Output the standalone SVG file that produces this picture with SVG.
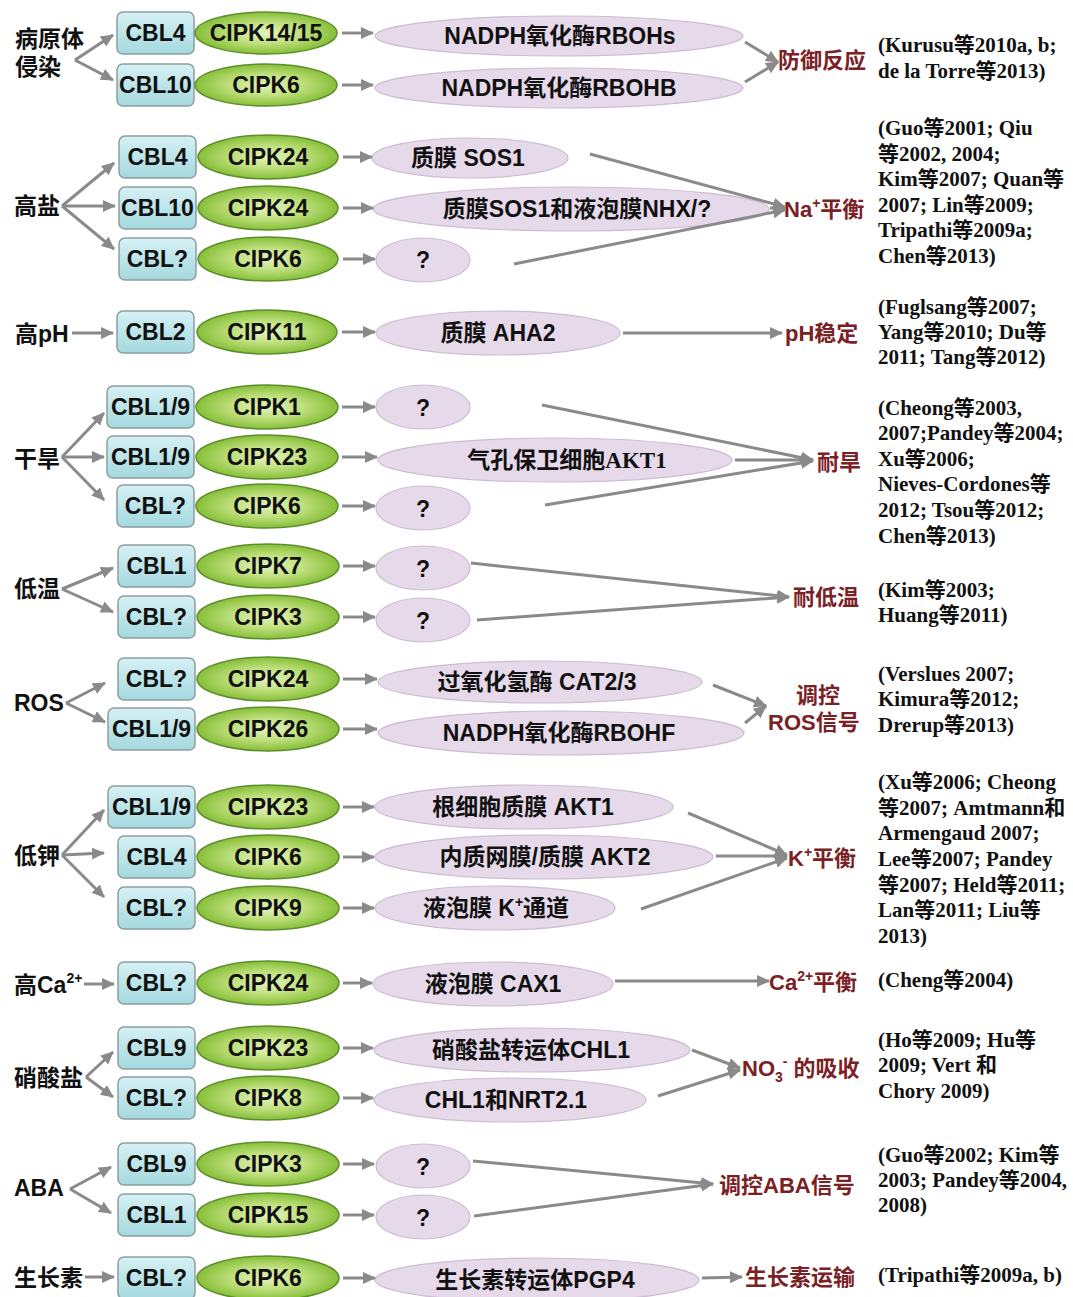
<svg xmlns="http://www.w3.org/2000/svg" width="1073" height="1297" viewBox="0 0 1073 1297">
<defs>
<linearGradient id="gCbl" x1="0" y1="0" x2="0" y2="1">
<stop offset="0" stop-color="#d6f1f4"/><stop offset="1" stop-color="#a4d9df"/>
</linearGradient>
<radialGradient id="gCipk" cx="0.5" cy="0.5" r="0.5">
<stop offset="0" stop-color="#e4f3bc"/><stop offset="0.5" stop-color="#c0e07e"/><stop offset="1" stop-color="#86bf38"/>
</radialGradient>
<marker id="ah" markerUnits="userSpaceOnUse" markerWidth="14" markerHeight="14" refX="12" refY="7" orient="auto">
<path d="M0,1 L13,7 L0,13 z" fill="#8a8a8a"/>
</marker>
</defs>
<style>
.cbl{fill:url(#gCbl);stroke:#8c9ea1;stroke-width:1.5}
.cipk{fill:url(#gCipk);stroke:#5e8e2c;stroke-width:1.5}
.tgt{fill:#e6d9ea;stroke:#cdbdd2;stroke-width:1.2}
.lb{font-family:"Liberation Sans",Arial,"Noto Sans CJK SC",sans-serif;font-weight:bold;font-size:23px;fill:#111;text-anchor:middle}
.sf{font-family:"Liberation Serif","Noto Sans CJK SC",serif}
.st{font-family:"Liberation Sans","Noto Sans CJK SC",sans-serif;font-weight:bold;font-size:23px;fill:#111}
.out{font-family:"Liberation Sans","Noto Sans CJK SC",sans-serif;font-weight:bold;font-size:22px;fill:#7b2024}
.ref{font-family:"Liberation Serif","Noto Sans CJK SC",serif;font-weight:bold;font-size:21px;fill:#111}
.c line{stroke:#8a8a8a;stroke-width:3;fill:none;marker-end:url(#ah)}
</style>

<!-- Group 1: pathogen -->
<g id="g1">
<g id="g1-stim"><text class="st" x="15" y="47">病原体</text><text class="st" x="15" y="75">侵染</text></g>
<g id="g1-r1">
<rect class="cbl" x="117" y="12" width="77" height="42" rx="6"/><text class="lb" x="155.5" y="41">CBL4</text>
<ellipse class="cipk" cx="266" cy="33" rx="71" ry="21"/><text class="lb" x="266" y="41">CIPK14/15</text>
<ellipse class="tgt" cx="559" cy="36" rx="184" ry="20"/><text class="lb" x="560" y="44">NADPH氧化酶RBOHs</text>
</g>
<g id="g1-r2">
<rect class="cbl" x="117" y="64" width="77" height="42" rx="6"/><text class="lb" x="155.5" y="93">CBL10</text>
<ellipse class="cipk" cx="266" cy="85" rx="71" ry="21"/><text class="lb" x="266" y="93">CIPK6</text>
<ellipse class="tgt" cx="559" cy="88" rx="184" ry="20"/><text class="lb" x="559" y="96">NADPH氧化酶RBOHB</text>
</g>
<g id="g1-out"><text class="out" x="778" y="68">防御反应</text></g>
<g id="g1-ref"><text class="ref" x="878" y="52">(Kurusu等2010a, b;</text><text class="ref" x="878" y="78">de la Torre等2013)</text></g>
</g>

<!-- Group 2: high salt -->
<g id="g2">
<g id="g2-stim"><text class="st" x="14" y="214">高盐</text></g>
<g id="g2-r1">
<rect class="cbl" x="119" y="136" width="77" height="42" rx="6"/><text class="lb" x="157.5" y="165">CBL4</text>
<ellipse class="cipk" cx="268" cy="157" rx="70" ry="22"/><text class="lb" x="268" y="165">CIPK24</text>
<ellipse class="tgt" cx="470" cy="158" rx="98" ry="20"/><text class="lb" x="468" y="166">质膜 SOS1</text>
</g>
<g id="g2-r2">
<rect class="cbl" x="119" y="187" width="77" height="42" rx="6"/><text class="lb" x="157.5" y="216">CBL10</text>
<ellipse class="cipk" cx="268" cy="208" rx="70" ry="22"/><text class="lb" x="268" y="216">CIPK24</text>
<ellipse class="tgt" cx="571" cy="209" rx="198" ry="22"/><text class="lb" x="577" y="217">质膜SOS1和液泡膜NHX/?</text>
</g>
<g id="g2-r3">
<rect class="cbl" x="119" y="238" width="77" height="42" rx="6"/><text class="lb" x="157.5" y="267">CBL?</text>
<ellipse class="cipk" cx="268" cy="259" rx="70" ry="22"/><text class="lb" x="268" y="267">CIPK6</text>
<ellipse class="tgt" cx="423" cy="260" rx="47" ry="22"/><text class="lb" x="423" y="268">?</text>
</g>
<g id="g2-out"><text class="out" x="784" y="217">Na<tspan font-size="14" dy="-9">+</tspan><tspan dy="9">平衡</tspan></text></g>
<g id="g2-ref">
<text class="ref" x="878" y="135">(Guo等2001; Qiu</text>
<text class="ref" x="878" y="161">等2002, 2004;</text>
<text class="ref" x="878" y="186">Kim等2007; Quan等</text>
<text class="ref" x="878" y="212">2007; Lin等2009;</text>
<text class="ref" x="878" y="237">Tripathi等2009a;</text>
<text class="ref" x="878" y="263">Chen等2013)</text>
</g>
</g>

<!-- Group 3: high pH -->
<g id="g3">
<g id="g3-stim"><text class="st" x="15" y="342">高pH</text></g>
<g id="g3-r1">
<rect class="cbl" x="117" y="311" width="77" height="42" rx="6"/><text class="lb" x="155.5" y="340">CBL2</text>
<ellipse class="cipk" cx="267" cy="332" rx="70" ry="22"/><text class="lb" x="267" y="340">CIPK11</text>
<ellipse class="tgt" cx="498" cy="333" rx="122" ry="22"/><text class="lb" x="498" y="341">质膜 AHA2</text>
</g>
<g id="g3-out"><text class="out" x="785" y="341">pH稳定</text></g>
<g id="g3-ref">
<text class="ref" x="878" y="314">(Fuglsang等2007;</text>
<text class="ref" x="878" y="339">Yang等2010; Du等</text>
<text class="ref" x="878" y="364">2011; Tang等2012)</text>
</g>
</g>

<!-- Group 4: drought -->
<g id="g4">
<g id="g4-stim"><text class="st" x="14" y="467">干旱</text></g>
<g id="g4-r1">
<rect class="cbl" x="107" y="386" width="87" height="42" rx="6"/><text class="lb" x="150.5" y="415">CBL1/9</text>
<ellipse class="cipk" cx="267" cy="407" rx="71" ry="22"/><text class="lb" x="267" y="415">CIPK1</text>
<ellipse class="tgt" cx="423" cy="407" rx="47" ry="22"/><text class="lb" x="423" y="416">?</text>
</g>
<g id="g4-r2">
<rect class="cbl" x="107" y="436" width="87" height="42" rx="6"/><text class="lb" x="150.5" y="465">CBL1/9</text>
<ellipse class="cipk" cx="267" cy="457" rx="71" ry="22"/><text class="lb" x="267" y="465">CIPK23</text>
<ellipse class="tgt" cx="555" cy="460" rx="177" ry="22"/><text class="lb" x="567" y="468">气孔保卫细胞<tspan class="sf">AKT1</tspan></text>
</g>
<g id="g4-r3">
<rect class="cbl" x="117" y="485" width="77" height="42" rx="6"/><text class="lb" x="155.5" y="514">CBL?</text>
<ellipse class="cipk" cx="267" cy="506" rx="71" ry="22"/><text class="lb" x="267" y="514">CIPK6</text>
<ellipse class="tgt" cx="423" cy="508" rx="47" ry="22"/><text class="lb" x="423" y="517">?</text>
</g>
<g id="g4-out"><text class="out" x="817" y="470">耐旱</text></g>
<g id="g4-ref">
<text class="ref" x="878" y="415">(Cheong等2003,</text>
<text class="ref" x="878" y="440">2007;Pandey等2004;</text>
<text class="ref" x="878" y="466">Xu等2006;</text>
<text class="ref" x="878" y="491">Nieves-Cordones等</text>
<text class="ref" x="878" y="517">2012; Tsou等2012;</text>
<text class="ref" x="878" y="543">Chen等2013)</text>
</g>
</g>

<!-- Group 5: low temperature -->
<g id="g5">
<g id="g5-stim"><text class="st" x="14" y="597">低温</text></g>
<g id="g5-r1">
<rect class="cbl" x="118" y="545" width="77" height="42" rx="6"/><text class="lb" x="156.5" y="574">CBL1</text>
<ellipse class="cipk" cx="268" cy="566" rx="71" ry="22"/><text class="lb" x="268" y="574">CIPK7</text>
<ellipse class="tgt" cx="423" cy="568" rx="47" ry="22"/><text class="lb" x="423" y="577">?</text>
</g>
<g id="g5-r2">
<rect class="cbl" x="118" y="596" width="77" height="42" rx="6"/><text class="lb" x="156.5" y="625">CBL?</text>
<ellipse class="cipk" cx="268" cy="617" rx="71" ry="22"/><text class="lb" x="268" y="625">CIPK3</text>
<ellipse class="tgt" cx="423" cy="620" rx="47" ry="22"/><text class="lb" x="423" y="629">?</text>
</g>
<g id="g5-out"><text class="out" x="793" y="605">耐低温</text></g>
<g id="g5-ref">
<text class="ref" x="878" y="597">(Kim等2003;</text>
<text class="ref" x="878" y="622">Huang等2011)</text>
</g>
</g>

<!-- Group 6: ROS -->
<g id="g6">
<g id="g6-stim"><text class="st" x="14" y="711">ROS</text></g>
<g id="g6-r1">
<rect class="cbl" x="118" y="658" width="77" height="42" rx="6"/><text class="lb" x="156.5" y="687">CBL?</text>
<ellipse class="cipk" cx="268" cy="679" rx="71" ry="22"/><text class="lb" x="268" y="687">CIPK24</text>
<ellipse class="tgt" cx="540" cy="682" rx="162" ry="21"/><text class="lb" x="537" y="690">过氧化氢酶 CAT2/3</text>
</g>
<g id="g6-r2">
<rect class="cbl" x="108" y="708" width="87" height="42" rx="6"/><text class="lb" x="151.5" y="737">CBL1/9</text>
<ellipse class="cipk" cx="268" cy="729" rx="71" ry="22"/><text class="lb" x="268" y="737">CIPK26</text>
<ellipse class="tgt" cx="561" cy="733" rx="183" ry="22"/><text class="lb" x="559" y="741">NADPH氧化酶RBOHF</text>
</g>
<g id="g6-out"><text class="out" x="796" y="703">调控</text><text class="out" x="768" y="730">ROS信号</text></g>
<g id="g6-ref">
<text class="ref" x="878" y="681">(Verslues 2007;</text>
<text class="ref" x="878" y="706">Kimura等2012;</text>
<text class="ref" x="878" y="732">Drerup等2013)</text>
</g>
</g>

<!-- Group 7: low potassium -->
<g id="g7">
<g id="g7-stim"><text class="st" x="14" y="864">低钾</text></g>
<g id="g7-r1">
<rect class="cbl" x="108" y="786" width="87" height="42" rx="6"/><text class="lb" x="151.5" y="815">CBL1/9</text>
<ellipse class="cipk" cx="268" cy="807" rx="71" ry="22"/><text class="lb" x="268" y="815">CIPK23</text>
<ellipse class="tgt" cx="524" cy="807" rx="149" ry="22"/><text class="lb" x="523" y="815">根细胞质膜 AKT1</text>
</g>
<g id="g7-r2">
<rect class="cbl" x="118" y="836" width="77" height="42" rx="6"/><text class="lb" x="156.5" y="865">CBL4</text>
<ellipse class="cipk" cx="268" cy="857" rx="71" ry="22"/><text class="lb" x="268" y="865">CIPK6</text>
<ellipse class="tgt" cx="544" cy="857" rx="169" ry="22"/><text class="lb" x="545" y="865">内质网膜/质膜 AKT2</text>
</g>
<g id="g7-r3">
<rect class="cbl" x="118" y="887" width="77" height="42" rx="6"/><text class="lb" x="156.5" y="916">CBL?</text>
<ellipse class="cipk" cx="268" cy="908" rx="71" ry="22"/><text class="lb" x="268" y="916">CIPK9</text>
<ellipse class="tgt" cx="495" cy="908" rx="120" ry="22"/><text class="lb" x="496" y="916">液泡膜 K<tspan font-size="14" dy="-9">+</tspan><tspan dy="9">通道</tspan></text>
</g>
<g id="g7-out"><text class="out" x="788" y="866">K<tspan font-size="14" dy="-9">+</tspan><tspan dy="9">平衡</tspan></text></g>
<g id="g7-ref">
<text class="ref" x="878" y="789">(Xu等2006; Cheong</text>
<text class="ref" x="878" y="815">等2007; Amtmann和</text>
<text class="ref" x="878" y="840">Armengaud 2007;</text>
<text class="ref" x="878" y="866">Lee等2007; Pandey</text>
<text class="ref" x="878" y="892">等2007; Held等2011;</text>
<text class="ref" x="878" y="917">Lan等2011; Liu等</text>
<text class="ref" x="878" y="943">2013)</text>
</g>
</g>

<!-- Group 8: high Ca -->
<g id="g8">
<g id="g8-stim"><text class="st" x="14" y="993">高Ca<tspan font-size="14" dy="-10">2+</tspan></text></g>
<g id="g8-r1">
<rect class="cbl" x="118" y="962" width="77" height="42" rx="6"/><text class="lb" x="156.5" y="991">CBL?</text>
<ellipse class="cipk" cx="268" cy="983" rx="71" ry="22"/><text class="lb" x="268" y="991">CIPK24</text>
<ellipse class="tgt" cx="493" cy="984" rx="120" ry="22"/><text class="lb" x="493" y="992">液泡膜 CAX1</text>
</g>
<g id="g8-out"><text class="out" x="769" y="990">Ca<tspan font-size="14" dy="-9">2+</tspan><tspan dy="9">平衡</tspan></text></g>
<g id="g8-ref"><text class="ref" x="878" y="987">(Cheng等2004)</text></g>
</g>

<!-- Group 9: nitrate -->
<g id="g9">
<g id="g9-stim"><text class="st" x="14" y="1086">硝酸盐</text></g>
<g id="g9-r1">
<rect class="cbl" x="118" y="1027" width="77" height="42" rx="6"/><text class="lb" x="156.5" y="1056">CBL9</text>
<ellipse class="cipk" cx="268" cy="1048" rx="71" ry="22"/><text class="lb" x="268" y="1056">CIPK23</text>
<ellipse class="tgt" cx="532" cy="1050" rx="158" ry="22"/><text class="lb" x="531" y="1058">硝酸盐转运体CHL1</text>
</g>
<g id="g9-r2">
<rect class="cbl" x="118" y="1077" width="77" height="42" rx="6"/><text class="lb" x="156.5" y="1106">CBL?</text>
<ellipse class="cipk" cx="268" cy="1098" rx="71" ry="22"/><text class="lb" x="268" y="1106">CIPK8</text>
<ellipse class="tgt" cx="510" cy="1100" rx="136" ry="22"/><text class="lb" x="506" y="1108">CHL1和NRT2.1</text>
</g>
<g id="g9-out"><text class="out" x="742" y="1076">NO<tspan font-size="14" dy="6">3</tspan><tspan font-size="14" dy="-16">-</tspan><tspan dy="10"> 的吸收</tspan></text></g>
<g id="g9-ref">
<text class="ref" x="878" y="1047">(Ho等2009; Hu等</text>
<text class="ref" x="878" y="1072">2009; Vert 和</text>
<text class="ref" x="878" y="1098">Chory 2009)</text>
</g>
</g>

<!-- Group 10: ABA -->
<g id="g10">
<g id="g10-stim"><text class="st" x="14" y="1196">ABA</text></g>
<g id="g10-r1">
<rect class="cbl" x="118" y="1143" width="77" height="42" rx="6"/><text class="lb" x="156.5" y="1172">CBL9</text>
<ellipse class="cipk" cx="268" cy="1164" rx="71" ry="22"/><text class="lb" x="268" y="1172">CIPK3</text>
<ellipse class="tgt" cx="423" cy="1166" rx="47" ry="22"/><text class="lb" x="423" y="1175">?</text>
</g>
<g id="g10-r2">
<rect class="cbl" x="118" y="1194" width="77" height="42" rx="6"/><text class="lb" x="156.5" y="1223">CBL1</text>
<ellipse class="cipk" cx="268" cy="1215" rx="71" ry="22"/><text class="lb" x="268" y="1223">CIPK15</text>
<ellipse class="tgt" cx="423" cy="1217" rx="47" ry="22"/><text class="lb" x="423" y="1226">?</text>
</g>
<g id="g10-out"><text class="out" x="719" y="1193">调控ABA信号</text></g>
<g id="g10-ref">
<text class="ref" x="878" y="1162">(Guo等2002; Kim等</text>
<text class="ref" x="878" y="1187">2003; Pandey等2004,</text>
<text class="ref" x="878" y="1212">2008)</text>
</g>
</g>

<!-- Group 11: auxin -->
<g id="g11">
<g id="g11-stim"><text class="st" x="14" y="1286">生长素</text></g>
<g id="g11-r1">
<rect class="cbl" x="118" y="1257" width="77" height="42" rx="6"/><text class="lb" x="156.5" y="1286">CBL?</text>
<ellipse class="cipk" cx="268" cy="1278" rx="71" ry="22"/><text class="lb" x="268" y="1286">CIPK6</text>
<ellipse class="tgt" cx="537" cy="1280" rx="162" ry="22"/><text class="lb" x="535" y="1288">生长素转运体PGP4</text>
</g>
<g id="g11-out"><text class="out" x="745" y="1285">生长素运输</text></g>
<g id="g11-ref"><text class="ref" x="878" y="1282">(Tripathi等2009a, b)</text></g>
</g>

<!-- Connectors -->
<g id="connectors" class="c">
<line x1="75" y1="60" x2="113" y2="35"/><line x1="75" y1="60" x2="113" y2="80"/>
<line x1="62" y1="206" x2="114" y2="163"/><line x1="62" y1="206" x2="115" y2="206"/><line x1="62" y1="206" x2="114" y2="249"/>
<line x1="72" y1="333" x2="113" y2="333"/>
<line x1="62" y1="457" x2="104" y2="413"/><line x1="62" y1="457" x2="104" y2="457"/><line x1="62" y1="457" x2="104" y2="500"/>
<line x1="62" y1="589" x2="113" y2="568"/><line x1="62" y1="589" x2="113" y2="612"/>
<line x1="66" y1="703" x2="105" y2="683"/><line x1="66" y1="703" x2="105" y2="722"/>
<line x1="62" y1="855" x2="104" y2="810"/><line x1="62" y1="855" x2="104" y2="853"/><line x1="62" y1="855" x2="104" y2="897"/>
<line x1="84" y1="984" x2="114" y2="984"/>
<line x1="86" y1="1077" x2="113" y2="1052"/><line x1="86" y1="1077" x2="113" y2="1097"/>
<line x1="70" y1="1189" x2="111" y2="1167"/><line x1="70" y1="1189" x2="111" y2="1213"/>
<line x1="85" y1="1277" x2="114" y2="1277"/>
<line x1="342" y1="33" x2="373" y2="33"/><line x1="342" y1="85" x2="373" y2="85"/>
<line x1="343" y1="157" x2="372" y2="157"/><line x1="343" y1="208" x2="373" y2="208"/><line x1="343" y1="259" x2="375" y2="259"/>
<line x1="342" y1="332" x2="375" y2="332"/>
<line x1="342" y1="407" x2="375" y2="407"/><line x1="342" y1="457" x2="377" y2="457"/><line x1="342" y1="506" x2="375" y2="506"/>
<line x1="343" y1="566" x2="375" y2="566"/><line x1="343" y1="617" x2="375" y2="617"/>
<line x1="343" y1="679" x2="377" y2="679"/><line x1="343" y1="729" x2="377" y2="729"/>
<line x1="343" y1="807" x2="374" y2="807"/><line x1="343" y1="857" x2="374" y2="857"/><line x1="343" y1="908" x2="374" y2="908"/>
<line x1="343" y1="983" x2="372" y2="983"/>
<line x1="343" y1="1048" x2="373" y2="1048"/><line x1="343" y1="1098" x2="373" y2="1098"/>
<line x1="343" y1="1164" x2="374" y2="1164"/><line x1="343" y1="1215" x2="374" y2="1215"/>
<line x1="343" y1="1278" x2="375" y2="1278"/>
<line x1="745" y1="42" x2="778" y2="62"/><line x1="745" y1="82" x2="778" y2="62"/>
<line x1="590" y1="154" x2="785" y2="207"/><line x1="770" y1="208" x2="785" y2="208"/><line x1="514" y1="264" x2="785" y2="210"/>
<line x1="623" y1="333" x2="782" y2="333"/>
<line x1="542" y1="405" x2="813" y2="460"/><line x1="735" y1="460" x2="813" y2="460"/><line x1="545" y1="505" x2="813" y2="461"/>
<line x1="471" y1="563" x2="789" y2="597"/><line x1="477" y1="620" x2="789" y2="597"/>
<line x1="713" y1="685" x2="766" y2="706"/><line x1="745" y1="723" x2="766" y2="706"/>
<line x1="688" y1="813" x2="787" y2="855"/><line x1="716" y1="856" x2="787" y2="856"/><line x1="641" y1="909" x2="787" y2="858"/>
<line x1="615" y1="981" x2="769" y2="981"/>
<line x1="692" y1="1050" x2="740" y2="1068"/><line x1="658" y1="1096" x2="740" y2="1070"/>
<line x1="473" y1="1161" x2="713" y2="1184"/><line x1="474" y1="1216" x2="713" y2="1184"/>
<line x1="702" y1="1278" x2="742" y2="1277"/>
</g>
</svg>
